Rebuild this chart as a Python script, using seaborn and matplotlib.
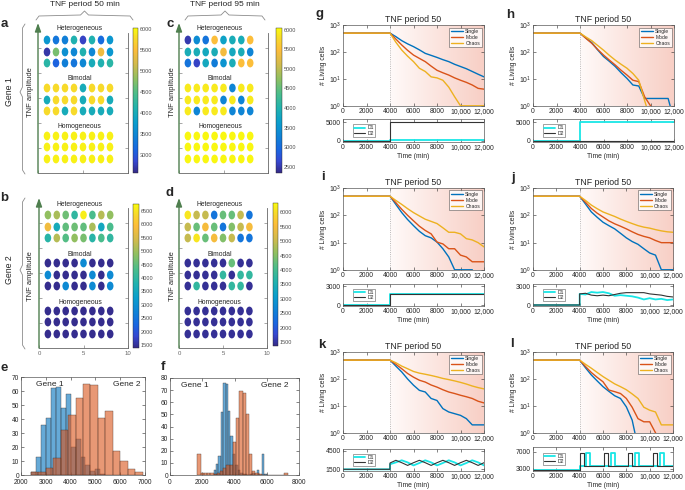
import matplotlib
matplotlib.use("Agg")
import matplotlib.pyplot as plt
import numpy as np
import seaborn as sns
from matplotlib.cm import ScalarMappable
from matplotlib.colors import LinearSegmentedColormap, Normalize
from matplotlib.lines import Line2D
from matplotlib.path import Path
from matplotlib.ticker import NullLocator
from matplotlib.transforms import Affine2D

sns.set_style("ticks")
plt.rcParams["font.family"] = ["Liberation Sans", "DejaVu Sans"]
plt.rcParams["axes.linewidth"] = 0.5

# ---------------- dot matrices (rows top -> bottom) ----------------
group_labels = ["Heterogeneous", "Bimodal", "Homogeneous"]

gene1_p50 = [
    [3700, 3300, 3400, 4100, 2800, 4100, 3200, 3700],
    [2700, 4700, 3600, 3500, 4100, 3500, 5400, 3700],
    [4200, 3100, 3400, 3300, 3500, 4000, 4100, 4200],
    [5800, 5800, 5800, 5800, 4000, 5800, 5800, 5800],
    [4000, 5800, 5800, 5800, 4000, 5800, 5800, 4000],
    [5800, 5800, 4000, 5800, 4000, 4000, 4000, 4000],
    [5950, 5950, 5950, 5950, 5950, 5950, 5950, 5950],
    [5950, 5950, 5950, 5950, 5950, 5950, 5950, 5950],
    [5950, 5950, 5950, 5950, 5950, 5950, 5950, 5950],
]
gene1_p95 = [
    [2500, 3400, 3100, 5500, 3700, 3900, 3900, 5500],
    [3900, 3900, 3800, 3900, 5400, 3800, 3900, 3300],
    [3100, 2600, 3800, 3200, 3500, 3900, 5500, 5500],
    [5900, 5900, 5900, 5900, 5900, 3300, 5900, 5900],
    [5900, 5900, 5900, 5900, 3300, 5900, 3300, 5900],
    [5900, 3300, 5900, 5900, 5900, 3300, 3300, 3300],
    [6000, 6000, 6000, 6000, 6000, 6000, 6000, 6000],
    [6000, 6000, 6000, 6000, 6000, 6000, 6000, 6000],
    [6000, 6000, 6000, 6000, 6000, 6000, 6000, 6000],
]
gene2_p50 = [
    [4900, 5100, 4600, 4000, 6600, 4300, 5200, 4900],
    [5800, 3600, 4500, 4600, 4500, 5100, 3500, 4300],
    [3900, 5200, 4400, 4900, 4700, 3900, 4300, 4000],
    [1450, 1450, 1450, 1450, 2900, 1450, 1450, 1450],
    [2900, 1450, 1450, 1450, 1450, 2900, 1450, 2900],
    [1450, 1450, 2900, 1450, 1450, 2900, 1450, 2900],
    [1450, 1450, 1450, 1450, 1450, 1450, 1450, 1450],
    [1450, 1450, 1450, 1450, 1450, 1450, 1450, 1450],
    [1450, 1450, 1450, 1450, 1450, 1450, 1450, 1450],
]
gene2_p95 = [
    [6100, 5000, 5000, 2400, 4300, 4300, 5000, 2400],
    [5000, 4300, 5500, 4300, 2400, 4500, 5000, 5500],
    [5000, 6100, 4300, 5500, 4500, 5000, 2400, 2400],
    [1450, 1450, 1450, 1450, 1450, 4300, 1450, 1450],
    [1450, 1450, 1450, 1450, 3800, 1450, 3800, 3800],
    [1450, 3800, 1450, 1450, 1450, 3800, 3800, 1450],
    [1450, 1450, 1450, 1450, 1450, 1450, 1450, 1450],
    [1450, 1450, 1450, 1450, 1450, 1450, 1450, 1450],
    [1450, 1450, 1450, 1450, 1450, 1450, 1450, 1450],
]
cbar_a = (2570, 6030, [3000, 3500, 4000, 4500, 5000, 5500, 6000])
cbar_c = (2340, 6040, [2500, 3000, 3500, 4000, 4500, 5000, 5500, 6000])
cbar_b = (1390, 6760, [1500, 2000, 2500, 3000, 3500, 4000, 4500, 5000, 5500, 6000, 6500])
cbar_d = (1360, 6330, [1500, 2000, 2500, 3000, 3500, 4000, 4500, 5000, 5500, 6000])

# ---------------- histograms ----------------
e_blue_edges = [2400, 2600, 2800, 3000, 3200, 3400, 3600, 3800, 4000, 4200, 4400, 4600, 4800, 5000, 5200, 5400]
e_blue_counts = [2, 13, 36, 41, 62, 63, 48, 58, 20, 26, 13, 7, 3, 4, 1]
e_orange_edges = [2400, 2700, 3000, 3300, 3600, 3900, 4200, 4500, 4800, 5100, 5400, 5700, 6000, 6300, 6600, 6900]
e_orange_counts = [2, 2, 5, 12, 32, 43, 55, 65, 64, 41, 46, 17, 10, 4, 2]

f_blue_edges = [2700, 2850, 3000, 3150, 3300, 3450, 3600, 3750, 3900, 4050, 4200, 4350,
                4500, 4650, 4800, 4950, 5100, 5250, 5400, 5550, 5700, 5850, 6000]
f_blue_counts = [4, 9, 16, 52, 76, 75, 53, 32, 17, 8, 4, 2, 1, 1, 0, 1, 2, 0, 4, 0, 17, 1]
f_orange_edges = [1700, 1900, 2100, 2300, 2500, 2700, 2900, 3100, 3300, 3500, 3700, 3900, 4100, 4300, 4500,
                  4700, 4900, 5100, 5300, 5500, 5700, 5900, 6100, 6300, 6500, 6700, 6900, 7100, 7300]
f_orange_counts = [17, 2, 2, 2, 2, 1, 2, 3, 6, 8, 8, 27, 47, 69, 68, 50, 17, 3, 2, 1, 0, 0, 0, 0, 0, 0, 0, 2]

# ---------------- time courses ----------------
time_grid = [0, 4000, 4500, 5000, 5500, 6000, 6500, 7000, 7500, 8000, 8500, 9000, 9500, 10000, 10500, 11000, 11500, 12000]
series_names = ["Single", "Mode", "Chaos"]

g_curves = [
    [500, 500, 370, 263, 200, 158, 120, 89, 75, 63, 52, 44, 35, 29, 24, 19, 15, 12],
    [500, 500, 300, 182, 115, 77, 58, 44, 30, 21, 17, 14, 11, 9, 7.5, 6, 4.5, 4.2],
    [500, 500, 230, 118, 70, 44, 25, 19, 12, 11, 9, 5, 2.2, 1.02, 1.02, 1.02, 1.02, 1.02],
]
h_curves = [
    [500, 500, 330, 223, 120, 68, 45, 29, 17, 10.5, 6, 5.5, 1.9, 1.9, 1.9, 1.9, 1.9, 0.3],
    [500, 500, 320, 210, 125, 77, 50, 33, 21, 14, 9, 8, 2.2, 1.02, 0.3, 0.3, 0.3, 0.3],
    [500, 500, 360, 263, 175, 117, 75, 50, 35, 25, 16, 9, 1.6, 0.3, 0.3, 0.3, 0.3, 0.3],
]
i_curves = [
    [500, 500, 250, 126, 70, 42, 26, 18, 15, 10.5, 6, 3, 1.02, 1.02, 1.02, 1.02, 0.3, 0.3],
    [500, 500, 290, 166, 100, 63, 40, 28, 21, 10.5, 9, 6, 6, 3.5, 3, 2, 2, 2],
    [500, 500, 350, 251, 175, 126, 95, 72, 60, 50, 35, 24, 24, 21, 14, 12.6, 10, 7],
]
j_curves = [
    [500, 500, 260, 133, 85, 56, 42, 32, 22, 15, 11, 8.7, 6, 4.2, 3.5, 1.02, 1.02, 1.02],
    [500, 500, 300, 178, 120, 87, 63, 49, 40, 32, 25, 20, 17, 15, 12, 10, 10, 10],
    [500, 500, 350, 237, 175, 133, 110, 91, 73, 60, 50, 42, 37, 34, 30, 27, 25, 24],
]
k_curves = [
    [500, 500, 300, 182, 100, 59, 38, 33, 19, 16, 8, 6, 5.2, 4.5, 3.4, 2, 2, 2],
    [500, 500, 350, 240, 160, 117, 90, 77, 60, 50, 40, 33, 29, 25, 22, 19, 15, 13],
    [500, 500, 400, 300, 240, 190, 165, 150, 135, 120, 105, 95, 85, 75, 65, 55, 48, 43],
]
l_curves = [
    [500, 500, 260, 141, 85, 52, 35, 24, 19, 9.3, 3, 0.3, 0.3, 0.3, 0.3, 0.3, 0.3, 0.3],
    [500, 500, 290, 174, 115, 79, 39, 34, 29, 19, 9, 3.4, 2.6, 2.6, 1.02, 0.3, 0.3, 0.3],
    [500, 500, 350, 251, 175, 123, 90, 66, 52, 40, 28, 19, 9, 7, 6, 2, 2, 2],
]

# TNF inputs D1 / D2
step_time = [0, 4000, 4000, 12000]
g_d1, g_d2 = [0, 0, 120, 120], [0, 0, 5000, 5000]
h_d1, h_d2 = [0, 0, 5000, 5000], [0, 0, 0, 0]
i_d1, i_d2 = [0, 0, 1800, 1800], [0, 0, 1800, 1800]
sub_time = [0, 4000, 4000, 4500, 5000, 5500, 6000, 6500, 7000, 7500, 8000, 8500, 9000, 9500,
            10000, 10500, 11000, 11500, 12000]
j_d1 = [0, 0, 1800, 1700, 2100, 2000, 2100, 1900, 1500, 1600, 1500, 1400, 1200, 900, 1100, 900, 1000, 800, 900]
j_d2 = [0, 0, 1800, 1900, 1600, 1500, 1600, 1500, 1700, 1900, 2000, 2000, 2000, 2000, 1800, 1700, 1600, 1400, 1300]
k_d1 = [1450, 1450, 2300, 2600, 2950, 2600, 2100, 2500, 2950, 2600, 2100, 2500, 2950, 2600, 2100, 2500, 2950, 2600, 2100]
k_d2 = [1450, 1450, 2500, 2950, 2550, 2100, 2550, 2950, 2550, 2100, 2550, 2950, 2550, 2100, 2550, 2950, 2550, 2100, 2550]
l_d1_time = [0, 4000, 4000, 4550, 4550, 4900, 4900, 6650, 6650, 7000, 7000, 8750, 8750, 9100, 9100,
             10850, 10850, 11200, 11200, 12000]
l_d1 = [2660, 2660, 3600, 3600, 6600, 6600, 3600, 3600, 6600, 6600, 3600, 3600, 6600, 6600, 3600,
        3600, 6600, 6600, 3600, 3600]
l_d2_time = [0, 4000, 4000, 4050, 4050, 4400, 4400, 6050, 6050, 6400, 6400, 8150, 8150, 8500, 8500,
             10300, 10300, 10650, 10650, 12000]
l_d2 = [2660, 2660, 3700, 3700, 6600, 6600, 3700, 3700, 6600, 6600, 3700, 3700, 6600, 6600, 3700,
        3700, 6600, 6600, 3700, 3700]

time_ticks = [0, 2000, 4000, 6000, 8000, 10000, 12000]
time_labels = ["0", "2000", "4000", "6000", "8000", "10,000", "12,000"]

# ---------------- styling ----------------
W, H = 685, 490
series_colors = ["#0072BD", "#D95319", "#EDB120"]
d1_color, d2_color = "#19e6e6", "#333333"
hist_blue, hist_orange = "#0072BD", "#D95319"
green = "#4f7f4f"
parula = LinearSegmentedColormap.from_list("parula", [
    (0.00, (0.208, 0.166, 0.529)), (0.08, (0.212, 0.280, 0.820)), (0.16, (0.100, 0.400, 0.880)),
    (0.25, (0.060, 0.510, 0.840)), (0.35, (0.040, 0.620, 0.800)), (0.45, (0.130, 0.700, 0.680)),
    (0.55, (0.300, 0.740, 0.540)), (0.65, (0.560, 0.750, 0.380)), (0.75, (0.820, 0.730, 0.300)),
    (0.85, (0.990, 0.740, 0.230)), (0.93, (0.970, 0.850, 0.170)), (1.00, (0.976, 0.984, 0.055))])
pink = LinearSegmentedColormap.from_list("pink", ["#fffaf9", "#f8cfc5"])
oval = Path.unit_circle().transformed(Affine2D().scale(0.75, 1.0))
row_y = [133, 121, 110, 85, 73, 62, 37, 26, 14]
group_y = [144, 94, 46]

fig = plt.figure(figsize=(W / 100, H / 100), dpi=100)


def px_axes(l, t, r, b):
    return fig.add_axes([l / W, 1 - b / H, (r - l) / W, (b - t) / H])


def fig_text(x, y, s, **kw):
    fig.text(x / W, 1 - y / H, s, **kw)


def fig_line(pts):
    fig.add_artist(Line2D([p[0] / W for p in pts], [1 - p[1] / H for p in pts],
                          color="0.55", lw=0.6, transform=fig.transFigure))


def dot_panel(box, cbox, rows, cbar, xlabels):
    vmin, vmax, cticks = cbar
    ax = px_axes(*box)
    xs, ys, cs = [], [], []
    for yy, row in zip(row_y, rows):
        for i, v in enumerate(row):
            xs.append(i + 1)
            ys.append(yy)
            cs.append(v)
    sns.scatterplot(x=xs, y=ys, hue=cs, palette=parula, hue_norm=(vmin, vmax), marker=oval,
                    s=40, linewidth=0, legend=False, ax=ax)
    for yy, lab in zip(group_y, group_labels):
        ax.text(4.6, yy, lab, ha="center", va="center", fontsize=4.9, color="0.15")
    ax.set_xlim(0, 10)
    ax.set_ylim(0, 150)
    ax.set_xticks([0, 5, 10])
    ax.set_xticklabels(["0", "5", "10"] if xlabels else [])
    ax.set_yticks([25, 50, 75, 100, 125])
    ax.set_yticklabels([])
    ax.tick_params(direction="in", length=2, width=0.4, labelsize=4.3, pad=2, right=True, colors="0.4")
    ax.spines["top"].set_visible(False)
    ax.spines["left"].set_visible(False)
    ax.spines["right"].set_bounds(0, 140)
    for s in ("right", "bottom"):
        ax.spines[s].set_color("0.4")
        ax.spines[s].set_linewidth(0.6)
    ax.annotate("", xy=(0, 1.0), xytext=(0, 0), xycoords="axes fraction", annotation_clip=False,
                arrowprops=dict(arrowstyle="-|>,head_length=0.5,head_width=0.18", color=green,
                                lw=1.0, shrinkA=0, shrinkB=0))
    cax = px_axes(*cbox)
    cb = fig.colorbar(ScalarMappable(norm=Normalize(vmin, vmax), cmap=parula), cax=cax, ticks=cticks)
    cb.outline.set_linewidth(0.3)
    cax.tick_params(labelsize=4.0, length=1.5, width=0.3, direction="in", pad=1.5, colors="0.3")
    return ax


def hist_panel(box, bedges, bcounts, oedges, ocounts, xlim, ylim, xticks, yticks, g1x, g2x, gy):
    ax = px_axes(*box)
    for edges, counts, color in ((bedges, bcounts, hist_blue), (oedges, ocounts, hist_orange)):
        centers = [(a + b) / 2 for a, b in zip(edges[:-1], edges[1:])]
        sns.histplot(x=centers, weights=counts, bins=edges, color=color, alpha=0.6,
                     edgecolor="#3a2a25", linewidth=0.25, ax=ax)
    ax.set_xlim(*xlim)
    ax.set_ylim(*ylim)
    ax.set_xticks(xticks)
    ax.set_yticks(yticks)
    ax.set_xlabel("")
    ax.set_ylabel("")
    ax.tick_params(direction="in", length=2, width=0.4, labelsize=4.8, top=True, right=True)
    ax.tick_params(axis="x", pad=3)
    ax.tick_params(axis="y", pad=1.5)
    for s in ax.spines.values():
        s.set_color("0.35")
    ax.text(g1x, gy, "Gene 1", ha="center", va="center", fontsize=6)
    ax.text(g2x, gy, "Gene 2", ha="center", va="center", fontsize=6)
    return ax


def tc_panel(main_box, sub_box, curves, d1, d2, sub_ylim, sub_ticks):
    bg = px_axes(*main_box)
    bg.imshow(np.linspace(0, 1, 256).reshape(1, -1), extent=(4000, 12000, 0, 1), aspect="auto", cmap=pink)
    bg.set_xlim(0, 12000)
    bg.set_ylim(0, 1)
    bg.axis("off")

    ax = px_axes(*main_box)
    ax.patch.set_alpha(0)
    ax.axvline(4000, color="0.65", ls=":", lw=0.6)
    for vals, color in zip(curves, series_colors):
        sns.lineplot(x=time_grid, y=vals, color=color, lw=1.0, estimator=None, sort=False, ax=ax)
    ax.set_yscale("log")
    ax.set_ylim(1, 1000)
    ax.set_xlim(0, 12000)
    ax.yaxis.set_minor_locator(NullLocator())
    ax.set_yticks([1, 10, 100, 1000])
    ax.set_xticks(time_ticks)
    ax.set_xticklabels(time_labels)
    ax.set_title("TNF period 50", fontsize=6.3, pad=2.5)
    ax.set_ylabel("# Living cells", fontsize=4.9, labelpad=1)
    ax.tick_params(direction="in", length=2, width=0.4, labelsize=4.9, pad=1.5, top=True, right=True)
    for s in ax.spines.values():
        s.set_color("0.35")
    handles = [Line2D([], [], color=c, lw=1.0) for c in series_colors]
    leg = ax.legend(handles, series_names, loc="upper right", fontsize=3.6, fancybox=False,
                    edgecolor="0.2", handlelength=2.4, borderpad=0.3, labelspacing=0.15,
                    handletextpad=0.5, borderaxespad=0.5)
    leg.get_frame().set_linewidth(0.4)

    sub = px_axes(*sub_box)
    sns.lineplot(x=d1[0], y=d1[1], color=d1_color, lw=1.3, estimator=None, sort=False, ax=sub)
    sns.lineplot(x=d2[0], y=d2[1], color=d2_color, lw=0.8, estimator=None, sort=False, ax=sub)
    sub.set_xlim(0, 12000)
    sub.set_ylim(*sub_ylim)
    sub.set_yticks(sub_ticks)
    sub.set_xticks(time_ticks)
    sub.set_xticklabels(time_labels)
    sub.set_xlabel("Time (min)", fontsize=4.9, labelpad=1.5)
    sub.tick_params(direction="in", length=2, width=0.4, labelsize=4.9, pad=1.5, top=True, right=True)
    for s in sub.spines.values():
        s.set_color("0.35")
    dh = [Line2D([], [], color=d1_color, lw=1.3), Line2D([], [], color=d2_color, lw=0.8)]
    leg = sub.legend(dh, ["D1", "D2"], loc="center left", bbox_to_anchor=(0.07, 0.5), fontsize=3.6,
                     fancybox=False, edgecolor="0.2", handlelength=2.2, borderpad=0.2,
                     labelspacing=0.05, handletextpad=0.5, borderaxespad=0)
    leg.get_frame().set_linewidth(0.4)


# ---------------- dot panels a-d ----------------
dot_panel((38, 23, 128, 173), (133, 28, 138, 173), gene1_p50, cbar_a, False)
dot_panel((179, 23, 268, 173), (276, 28, 282, 173), gene1_p95, cbar_c, False)
dot_panel((39, 198, 128, 348), (133, 204, 139, 348), gene2_p50, cbar_b, True)
dot_panel((179, 198, 267, 348), (273, 203, 278, 346), gene2_p95, cbar_d, True)

for x, y in ((30, 92), (172, 92), (31, 276), (172, 276)):
    fig_text(x, y, "TNF amplitude", rotation=90, ha="center", va="center", fontsize=5.4)
fig_text(85, 5, "TNF period 50 min", ha="center", va="center", fontsize=6)
fig_text(225, 5, "TNF period 95 min", ha="center", va="center", fontsize=6)
fig_text(10, 92, "Gene 1", rotation=90, ha="center", va="center", fontsize=6.3)
fig_text(10, 270, "Gene 2", rotation=90, ha="center", va="center", fontsize=6.3)

# braces
for x0, x1 in ((36, 133), (185, 265)):
    xc = (x0 + x1) / 2
    fig_line([(x0, 20), (x0 + 3, 16), (xc - 4, 15), (xc, 11), (xc + 4, 15), (x1 - 3, 16), (x1, 20)])
for y0, y1, yc in ((24, 174, 92), (198, 349, 270)):
    fig_line([(25, y0), (22.5, y0 + 4), (22.5, yc - 5), (20, yc), (22.5, yc + 5), (22.5, y1 - 4), (25, y1)])

# ---------------- histograms e, f ----------------
hist_panel((21, 377, 145, 475), e_blue_edges, e_blue_counts, e_orange_edges, e_orange_counts,
           (2000, 7000), (0, 70), [2000, 3000, 4000, 5000, 6000, 7000], list(range(0, 71, 10)),
           3150, 6250, 64.5)
hist_panel((170, 378, 299, 475), f_blue_edges, f_blue_counts, f_orange_edges, f_orange_counts,
           (0, 8000), (0, 80), [0, 2000, 4000, 6000, 8000], list(range(0, 81, 10)),
           1550, 6500, 74)

# ---------------- time courses g-l ----------------
tc_panel((343, 25, 484, 106), (343, 119, 484, 142), g_curves, (step_time, g_d1), (step_time, g_d2),
         (-300, 5900), [0, 5000])
tc_panel((533, 25, 674, 106), (533, 119, 674, 142), h_curves, (step_time, h_d1), (step_time, h_d2),
         (-300, 5900), [0, 5000])
tc_panel((343, 188, 484, 270), (343, 284, 484, 306), i_curves, (step_time, i_d1), (step_time, i_d2),
         (-160, 3400), [0, 3000])
tc_panel((533, 188, 673, 270), (533, 284, 673, 306), j_curves, (sub_time, j_d1), (sub_time, j_d2),
         (-160, 3400), [0, 3000])
tc_panel((343, 352, 484, 433), (343, 449, 484, 471), k_curves, (sub_time, k_d1), (sub_time, k_d2),
         (1170, 4830), [1500, 4500])
tc_panel((533, 352, 673, 433), (533, 447, 673, 471), l_curves, (l_d1_time, l_d1), (l_d2_time, l_d2),
         (2420, 8060), [3000, 7000])

# panel letters
for letter, x, y in (("a", 4, 24), ("b", 4, 198), ("c", 170, 24), ("d", 170, 193), ("e", 4, 368),
                     ("f", 163, 367), ("g", 320, 14), ("h", 510, 15), ("i", 323, 177),
                     ("j", 513, 178), ("k", 322, 345), ("l", 512, 344)):
    fig_text(x, y, letter, fontsize=9.5, fontweight="bold", ha="center", va="center")

fig.savefig("out.png", dpi=100)
